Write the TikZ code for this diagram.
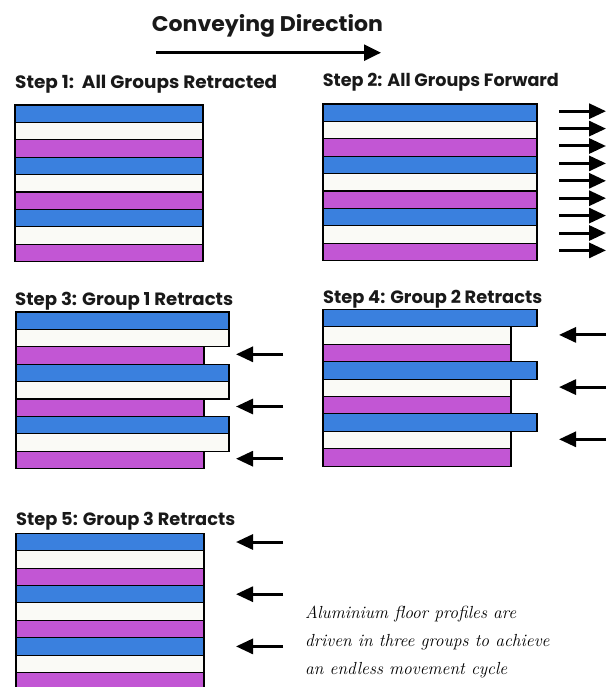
\documentclass[tikz,border=0pt]{standalone}
\usepackage{fontspec}
\usepackage{graphicx}
\newfontfamily\headfont{Poppins}
\usetikzlibrary{arrows.meta}

\definecolor{fblue}{RGB}{58,128,222}
\definecolor{fmag}{RGB}{194,86,212}
\definecolor{fwhite}{RGB}{250,250,246}

% one floor profile strip
\newcommand{\profile}[4]{% left, top, right, fill
  \draw[strip, fill=#4] (#1,#2) rectangle (#3,#2+17.4);}

% nine strips: blue, white, magenta repeated; right edges per group
\newcommand{\floorpanel}[5]{% left, top, right blue, right white, right magenta
  \foreach \g in {0,1,2}{
    \pgfmathsetmacro{\ya}{#2+3*\g*17.4}
    \pgfmathsetmacro{\yb}{\ya+17.4}
    \pgfmathsetmacro{\yc}{\yb+17.4}
    \profile{#1}{\ya}{#3}{fblue}
    \profile{#1}{\yb}{#4}{fwhite}
    \profile{#1}{\yc}{#5}{fmag}
  }}

% heading scaled to a given width and cap height
\newcommand{\heading}[3]{\resizebox{#1}{#2}{\headfont\bfseries #3}}

\begin{document}
\begin{tikzpicture}[x=1pt, y=-1pt,
  strip/.style={draw=black, line width=1.1pt},
  push/.style={line width=3pt, -{Triangle[length=17pt,width=15pt]}},
  headline/.style={anchor=base west, inner sep=0pt, text=black!90},
  note/.style={anchor=base west, inner sep=0pt, font=\fontsize{17.5}{20}\selectfont\itshape, text=black}]

\useasboundingbox (0,0) rectangle (608,687);
\clip (0,0) rectangle (608,687);

% conveying direction
\node[headline] (title) at (151.7,31.7) {\heading{231pt}{17pt}{Conveying Direction}};
\coordinate (dirA) at (156,52.7);
\coordinate (dirB) at (381,52.7);
\draw[line width=2.6pt, -{Triangle[length=17pt,width=16pt]}] (dirA) -- (dirB);

% step 1
\node[headline] (h1) at (15,89) {\heading{262pt}{13.3pt}{Step 1:\ \ All Groups Retracted}};
\floorpanel{15}{105}{203}{203}{203}

% step 2
\node[headline] (h2) at (322.7,87) {\heading{236pt}{13.3pt}{Step 2: All Groups Forward}};
\floorpanel{323}{104}{537}{537}{537}
\foreach \k in {0,...,8}{
  \coordinate (f\k a) at (559,104+\k*17.4+7.2);
  \coordinate (f\k b) at (606,104+\k*17.4+7.2);
  \draw[push] (f\k a) -- (f\k b);
}

% step 3
\node[headline] (h3) at (15,305) {\heading{218pt}{13.3pt}{Step 3: Group 1 Retracts}};
\floorpanel{16}{312}{229}{229}{204}
\foreach \k in {0,1,2}{
  \coordinate (r\k a) at (283,312+3*\k*17.4+2*17.4+7.5);
  \coordinate (r\k b) at (236,312+3*\k*17.4+2*17.4+7.5);
  \draw[push] (r\k a) -- (r\k b);
}

% step 4
\node[headline] (h4) at (323,303.3) {\heading{219pt}{13.3pt}{Step 4: Group 2 Retracts}};
\floorpanel{323}{309.5}{537}{511}{511}
\foreach \k in {0,1,2}{
  \coordinate (s\k a) at (606,309.5+3*\k*17.4+17.4+8);
  \coordinate (s\k b) at (559,309.5+3*\k*17.4+17.4+8);
  \draw[push] (s\k a) -- (s\k b);
}

% step 5
\node[headline] (h5) at (16,525) {\heading{219pt}{13.3pt}{Step 5: Group 3 Retracts}};
\floorpanel{16}{533.3}{204}{204}{204}
\foreach \k in {0,1,2}{
  \coordinate (t\k a) at (283,533.3+3*\k*17.4+8.7);
  \coordinate (t\k b) at (236,533.3+3*\k*17.4+8.7);
  \draw[push] (t\k a) -- (t\k b);
}

% caption
\node[note] (n1) at (305,618) {Aluminium floor profiles are};
\node[note] (n2) at (305,646.5) {driven in three groups to achieve};
\node[note] (n3) at (305,674) {an endless movement cycle};

\end{tikzpicture}
\end{document}
